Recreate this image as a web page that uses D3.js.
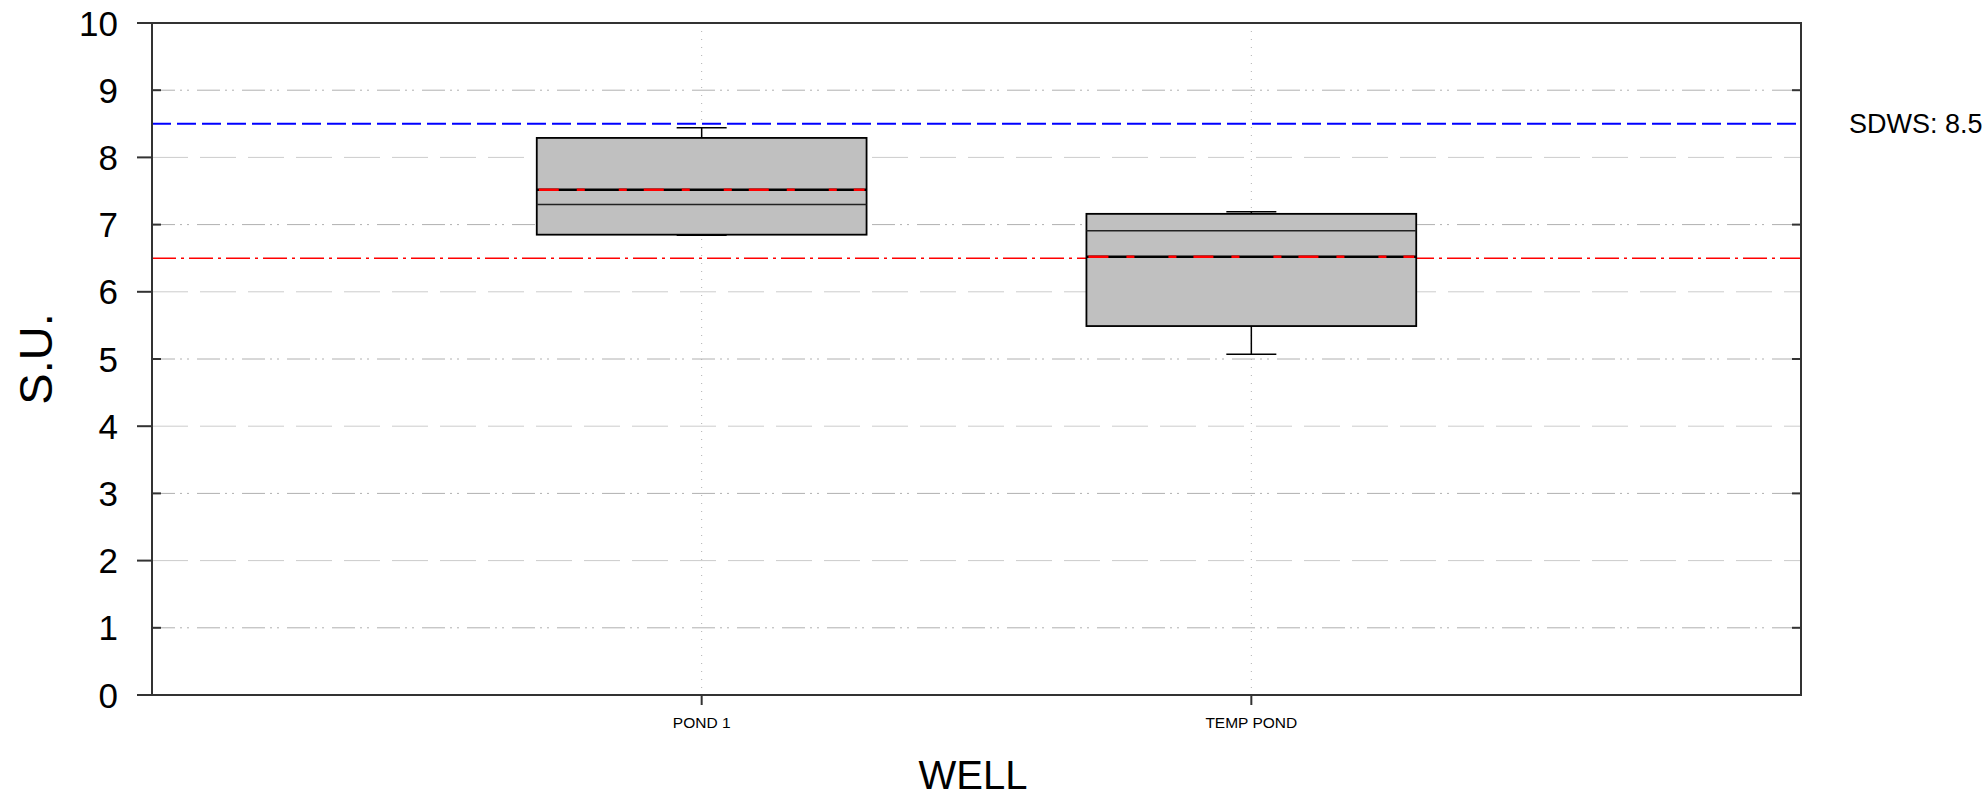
<!DOCTYPE html>
<html>
<head>
<meta charset="utf-8">
<script src="https://cdn.jsdelivr.net/npm/d3@7"></script>
<style>
  html, body { margin: 0; padding: 0; background: #fff; }
  svg { display: block; font-family: "Liberation Sans", Arial, sans-serif; }
</style>
</head>
<body>
<svg id="chart" width="1986" height="798"></svg>
<script>
// ---- data ----
const categories = ["POND 1", "TEMP POND"];
const whiskerMin = [6.84, 5.07];
const q1 = [6.85, 5.49];
const median = [7.30, 6.91];
const mean = [7.52, 6.52];
const q3 = [8.29, 7.16];
const whiskerMax = [8.44, 7.19];
const yTicks = [0, 1, 2, 3, 4, 5, 6, 7, 8, 9, 10];
const sdwsValue = 8.5;
const sdwsLabel = "SDWS: 8.5";
const lowerLimit = 6.5;
const xTitle = "WELL";
const yTitle = "S.U.";

// ---- layout ----
const L = 152, R = 1801, T = 23, B = 695;
const svg = d3.select("#chart");

const x = d3.scalePoint().domain(categories).range([L, R]).padding(1);
const y = d3.scaleLinear().domain([0, 10]).range([B, T]);
const boxW = x.step() * 0.6;
const capW = 50;

const boxes = categories.map((c, i) => ({
  cat: c, lo: whiskerMin[i], q1: q1[i], med: median[i], mean: mean[i], q3: q3[i], hi: whiskerMax[i]
}));

// ---- grid lines ----
const grid = svg.append("g");
grid.selectAll("line.hg")
  .data(yTicks.filter(v => v > 0 && v < 10))
  .join("line")
  .attr("x1", L).attr("x2", R)
  .attr("y1", d => y(d)).attr("y2", d => y(d))
  .attr("stroke", d => d % 2 ? "#b0b0b0" : "#cccccc")
  .attr("stroke-width", 1)
  .attr("stroke-dasharray", d => d % 2 ? "23,5,2,5,2,8" : "36,12");

grid.selectAll("line.vg")
  .data(categories)
  .join("line")
  .attr("x1", d => x(d)).attr("x2", d => x(d))
  .attr("y1", T).attr("y2", B)
  .attr("stroke", "#b0b0b0")
  .attr("stroke-width", 1)
  .attr("stroke-dasharray", "1,7");

// ---- reference lines ----
svg.append("line")
  .attr("x1", L).attr("x2", R)
  .attr("y1", y(lowerLimit)).attr("y2", y(lowerLimit))
  .attr("stroke", "#ff0000").attr("stroke-width", 1.5)
  .attr("stroke-dasharray", "24,5,3,5");

svg.append("line")
  .attr("x1", L).attr("x2", R)
  .attr("y1", y(sdwsValue)).attr("y2", y(sdwsValue))
  .attr("stroke", "#0000ff").attr("stroke-width", 2)
  .attr("stroke-dasharray", "19,6");

svg.append("text")
  .attr("x", 1849).attr("y", y(sdwsValue) + 9.5)
  .attr("font-size", 27)
  .attr("fill", "#000")
  .text(sdwsLabel);

// ---- boxes ----
const g = svg.append("g").selectAll("g").data(boxes).join("g");

// whiskers
g.append("line")
  .attr("x1", d => x(d.cat)).attr("x2", d => x(d.cat))
  .attr("y1", d => y(d.q3)).attr("y2", d => y(d.hi))
  .attr("stroke", "#000").attr("stroke-width", 1.5);
g.append("line")
  .attr("x1", d => x(d.cat)).attr("x2", d => x(d.cat))
  .attr("y1", d => y(d.q1)).attr("y2", d => y(d.lo))
  .attr("stroke", "#000").attr("stroke-width", 1.5);
g.append("line")
  .attr("x1", d => x(d.cat) - capW / 2).attr("x2", d => x(d.cat) + capW / 2)
  .attr("y1", d => y(d.hi)).attr("y2", d => y(d.hi))
  .attr("stroke", "#000").attr("stroke-width", 1.5);
g.append("line")
  .attr("x1", d => x(d.cat) - capW / 2).attr("x2", d => x(d.cat) + capW / 2)
  .attr("y1", d => y(d.lo)).attr("y2", d => y(d.lo))
  .attr("stroke", "#000").attr("stroke-width", 1.5);

// box
g.append("rect")
  .attr("x", d => x(d.cat) - boxW / 2)
  .attr("width", boxW)
  .attr("y", d => y(d.q3))
  .attr("height", d => y(d.q1) - y(d.q3))
  .attr("fill", "#c0c0c0")
  .attr("stroke", "#000").attr("stroke-width", 1.8);

// median
g.append("line")
  .attr("x1", d => x(d.cat) - boxW / 2).attr("x2", d => x(d.cat) + boxW / 2)
  .attr("y1", d => y(d.med)).attr("y2", d => y(d.med))
  .attr("stroke", "#222").attr("stroke-width", 1.5);

// mean
g.append("line")
  .attr("x1", d => x(d.cat) - boxW / 2).attr("x2", d => x(d.cat) + boxW / 2)
  .attr("y1", d => y(d.mean)).attr("y2", d => y(d.mean))
  .attr("stroke", "#000").attr("stroke-width", 2.5);
g.append("line")
  .attr("x1", d => x(d.cat) - boxW / 2 + 2).attr("x2", d => x(d.cat) + boxW / 2 - 2)
  .attr("y1", d => y(d.mean)).attr("y2", d => y(d.mean))
  .attr("stroke", "#ff0000").attr("stroke-width", 2.5)
  .attr("stroke-dasharray", "20,18,8,34,8,17");

// ---- frame ----
const frame = svg.append("g").attr("stroke", "#333").attr("stroke-width", 2).attr("fill", "none");
frame.append("rect").attr("x", L).attr("y", T).attr("width", R - L).attr("height", B - T);

// left axis ticks
svg.append("g").selectAll("line")
  .data(yTicks)
  .join("line")
  .attr("x1", d => d % 2 ? L : L - 15)
  .attr("x2", d => d % 2 ? L + 9 : L)
  .attr("y1", d => y(d)).attr("y2", d => y(d))
  .attr("stroke", "#333").attr("stroke-width", 2);

// right axis minor ticks
svg.append("g").selectAll("line")
  .data(yTicks.filter(d => d % 2))
  .join("line")
  .attr("x1", R - 9).attr("x2", R)
  .attr("y1", d => y(d)).attr("y2", d => y(d))
  .attr("stroke", "#333").attr("stroke-width", 2);

// y tick labels
svg.append("g").selectAll("text")
  .data(yTicks)
  .join("text")
  .attr("x", 118)
  .attr("y", d => y(d))
  .attr("dy", "0.36em")
  .attr("text-anchor", "end")
  .attr("font-size", 35)
  .attr("fill", "#000")
  .text(d => d);

// x ticks
svg.append("g").selectAll("line")
  .data(categories)
  .join("line")
  .attr("x1", d => x(d)).attr("x2", d => x(d))
  .attr("y1", B).attr("y2", B + 10)
  .attr("stroke", "#333").attr("stroke-width", 2);

svg.append("g").selectAll("text")
  .data(categories)
  .join("text")
  .attr("x", d => x(d))
  .attr("y", 728)
  .attr("text-anchor", "middle")
  .attr("font-size", 15.5)
  .attr("fill", "#000")
  .text(d => d);

// axis titles
svg.append("text")
  .attr("x", 973).attr("y", 789)
  .attr("text-anchor", "middle")
  .attr("font-size", 40)
  .attr("fill", "#000")
  .text(xTitle);

svg.append("text")
  .attr("transform", `translate(52, ${(T + B) / 2}) rotate(-90)`)
  .attr("text-anchor", "middle")
  .attr("font-size", 47)
  .attr("fill", "#000")
  .text(yTitle);
</script>
</body>
</html>
